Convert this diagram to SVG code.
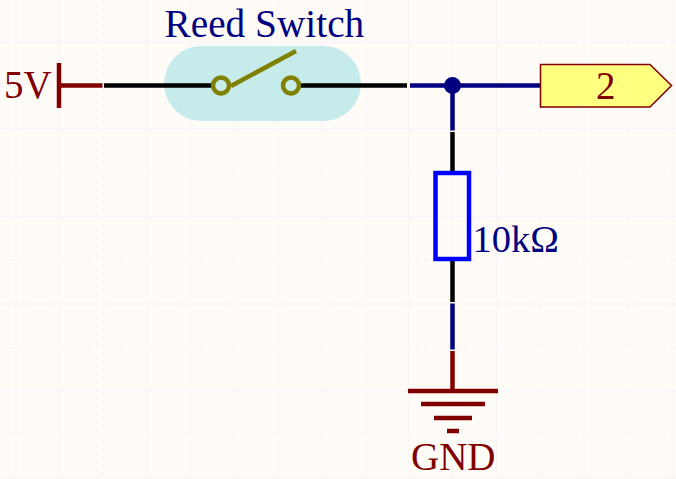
<svg xmlns="http://www.w3.org/2000/svg" width="676" height="479" viewBox="0 0 676 479">
<style>
.bg{fill:#FFFCF8}
.maj{stroke:#FBF1FB;stroke-width:1;fill:none}
.min{stroke:#FBF1FB;stroke-width:1;fill:none;stroke-dasharray:5 3}
.w{fill:none;stroke-width:4.5}
.blk{stroke:#000}
.nav{stroke:#000080}
.mar{stroke:#800000;fill:none;stroke-width:4.5}
.olv{stroke:#808000;fill:none;stroke-width:4.5}
text{font-family:"Liberation Serif","Times New Roman",serif}
.tn{fill:#000080}
.tm{fill:#800000}
</style>
<rect class="bg" width="676" height="479"/>
<g id="grid">
<path class="maj" d="M59 0V479M147 0V479M234 0V479M322 0V479M409 0V479M497 0V479M584 0V479M672 0V479M0 42H676M0 129H676M0 217H676M0 304H676M0 391H676M0 478H676"/>
<path class="min" d="M16 0V479M103 0V479M190 0V479M278 0V479M366 0V479M453 0V479M540 0V479M628 0V479M0 85H676M0 173H676M0 260H676M0 348H676M0 435H676"/>
</g>
<g id="reed-switch">
<rect x="164" y="46" width="197" height="75" rx="37.500" fill="#C6EBEB"/>
<text class="tn" x="164.500" y="37" font-size="39.300">Reed Switch</text>
</g>
<g id="connectors">
<path class="w blk" d="M104 85.500H212M300 85.500H407M452.500 132V172M452.500 261V302"/>
<path class="w nav" d="M410 85.500H541M452.500 85.500V130.500M452.500 303.500V349.500"/>
<circle cx="452.500" cy="85.500" r="8.500" fill="#000080"/>
</g>
<g id="switch-symbol">
<circle class="olv" cx="221" cy="85.500" r="8"/>
<circle class="olv" cx="291" cy="85.500" r="8"/>
<path class="olv" d="M231 86L296 51"/>
</g>
<g id="vcc">
<path class="mar" d="M59 63V108M59 85.500H102.500"/>
<text class="tm" x="4" y="98" font-size="39">5V</text>
</g>
<g id="port-2">
<path d="M540.500 64.500H650L671.500 85.500L650 107H540.500Z" fill="#FFFF80" stroke="#800000" stroke-width="1.500"/>
<text class="tm" x="596" y="99" font-size="39">2</text>
</g>
<g id="resistor">
<rect x="435.500" y="173" width="33.500" height="86" fill="none" stroke="#0000FF" stroke-width="4.500"/>
<text class="tn" x="472.500" y="252" font-size="38.500">10kΩ</text>
</g>
<g id="gnd">
<path class="mar" d="M452.500 351V391M408 391H498M421 404H485M434 418H472M447 431H459"/>
<text class="tm" x="411" y="470" font-size="39">GND</text>
</g>
</svg>
